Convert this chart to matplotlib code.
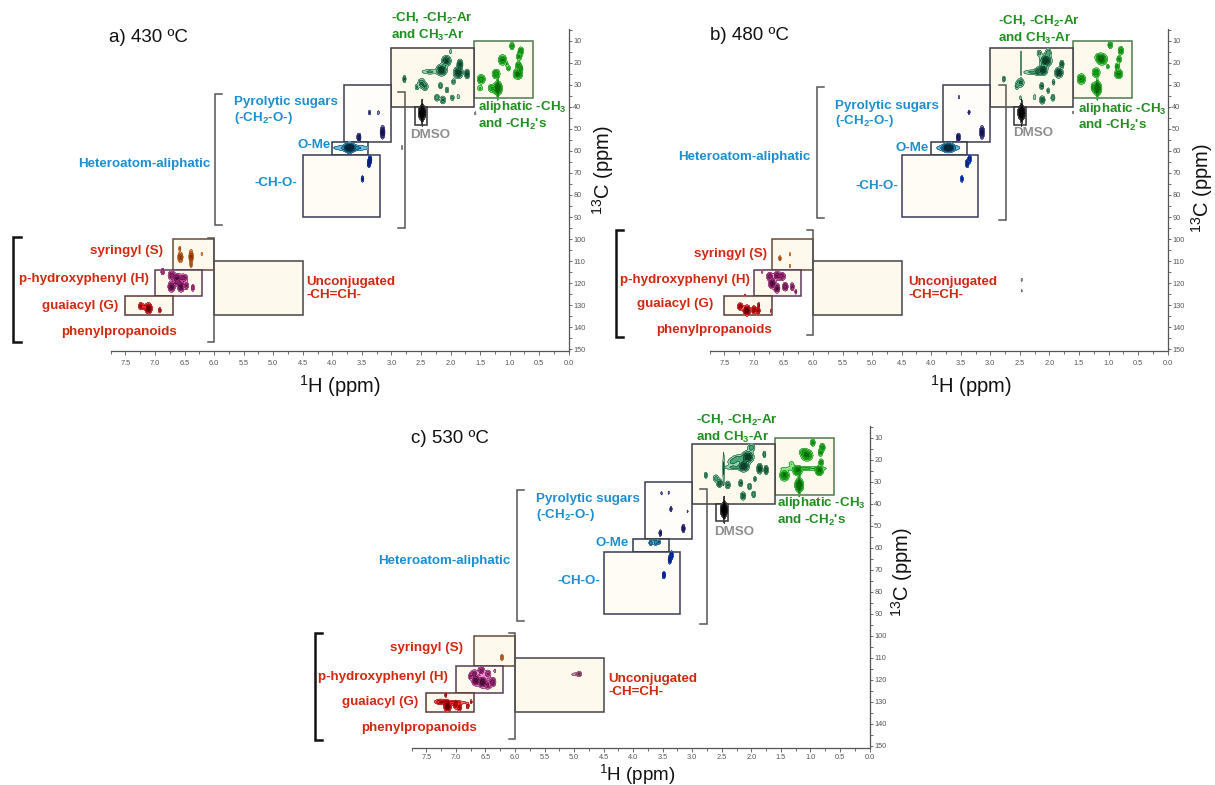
import numpy as np
import matplotlib
matplotlib.use("Agg")
import matplotlib.pyplot as plt
from matplotlib.patches import Rectangle
from matplotlib.ticker import MultipleLocator, FormatStrFormatter

plt.rcParams['font.family'] = ['Liberation Sans', 'DejaVu Sans']
plt.rcParams['mathtext.fontset'] = 'custom'
plt.rcParams['mathtext.rm'] = 'Liberation Sans'
plt.rcParams['mathtext.bf'] = 'Liberation Sans:bold'
plt.rcParams['mathtext.it'] = 'Liberation Sans:italic'
plt.rcParams['mathtext.default'] = 'rm'

# ---- spectral regions (1H range, 13C range) ----
REGIONS = ['aliph', 'char', 'dmso', 'sugar', 'ome', 'cho', 's', 'h', 'g', 'unconj']
REGION_H = [(0.6, 1.6), (1.6, 3.0), (2.4, 2.6), (3.0, 3.8), (3.4, 4.0),
            (3.2, 4.5), (6.0, 6.7), (6.2, 7.0), (6.7, 7.5), (4.5, 6.0)]
REGION_C = [(10, 36), (13, 40), (40, 48), (30, 56), (56, 62),
            (62, 90), (100, 114), (114, 126), (126, 134.5), (110, 134.5)]

PANEL_TITLES = ['a) 430 ºC', 'b) 480 ºC', 'c) 530 ºC']

# ---- cross peaks: (1H ppm, 13C ppm, intensity, width 1H, width 13C) ----
A_ALIPH = [(0.96, 12.3, 0.6, 0.022, 0.9), (0.81, 14.6, 0.7, 0.025, 1.0),
           (1.12, 18.6, 0.9, 0.035, 1.2), (0.84, 17.1, 0.6, 0.025, 0.9),
           (0.85, 21.2, 0.7, 0.025, 1.0), (1.02, 22.4, 0.4, 0.02, 0.8),
           (0.81, 22.6, 0.5, 0.02, 0.8), (1.23, 25.0, 0.8, 0.035, 1.1),
           (0.86, 25.0, 1.0, 0.04, 1.2), (1.48, 27.4, 0.8, 0.035, 1.1),
           (1.50, 31.5, 0.35, 0.03, 0.8), (1.30, 31.5, 0.6, 0.035, 1.0),
           (1.20, 31.5, 1.4, 0.035, 1.5), (1.20, 31.5, 0.4, 0.008, 3.5),
           (1.05, 20.5, 0.3, 0.015, 0.7)]
A_CHAR = [(2.78, 27.3, 0.6, 0.015, 0.9), (2.00, 14.8, 0.3, 0.01, 0.7),
          (2.07, 19.0, 1.0, 0.04, 1.2), (1.84, 20.6, 0.9, 0.025, 1.2),
          (2.15, 23.2, 1.2, 0.045, 1.3), (1.87, 24.4, 1.2, 0.04, 1.3),
          (1.72, 25.0, 0.9, 0.022, 1.1), (2.35, 24.0, 0.35, 0.09, 0.7),
          (2.49, 29.2, 0.6, 0.035, 1.2), (2.43, 30.8, 0.5, 0.03, 1.0),
          (2.57, 31.0, 0.35, 0.02, 0.8), (2.17, 30.3, 0.5, 0.02, 0.8),
          (2.06, 32.3, 0.4, 0.02, 0.8), (1.95, 28.5, 0.4, 0.02, 0.8),
          (1.97, 35.8, 0.4, 0.02, 0.8), (2.23, 35.8, 0.5, 0.025, 0.9),
          (2.13, 36.8, 0.6, 0.025, 1.0), (1.87, 35.3, 0.3, 0.015, 0.7)]
A_DMSO = [(2.48, 42.6, 1.4, 0.03, 1.6), (2.48, 42.6, 0.4, 0.008, 4.0)]
A_SUGAR = [(3.37, 42.6, 0.35, 0.012, 0.7), (3.22, 42.6, 0.25, 0.012, 0.7),
           (3.15, 51.5, 1.0, 0.02, 1.5), (3.55, 53.8, 0.8, 0.018, 1.0)]
A_OME = [(3.71, 58.5, 1.3, 0.045, 1.2), (3.68, 58.6, 0.45, 0.18, 0.8)]
A_CHO = [(3.36, 63.8, 0.8, 0.015, 1.0), (3.38, 65.6, 0.8, 0.015, 1.0),
         (3.49, 72.7, 0.6, 0.013, 0.8)]
A_S = [(6.57, 108.3, 0.9, 0.022, 1.2), (6.39, 108.0, 0.9, 0.018, 1.6),
       (6.39, 111.8, 0.4, 0.012, 0.7), (6.21, 106.8, 0.25, 0.01, 0.6),
       (6.58, 104.4, 0.35, 0.012, 0.7)]
A_H = [(6.87, 114.8, 0.5, 0.018, 0.9), (6.72, 116.5, 0.8, 0.03, 1.1),
       (6.63, 117.8, 0.9, 0.04, 1.1), (6.52, 117.8, 0.7, 0.04, 1.0),
       (6.72, 121.7, 1.0, 0.03, 1.2), (6.56, 121.7, 1.0, 0.03, 1.2),
       (6.47, 121.2, 0.6, 0.02, 1.0), (6.36, 122.2, 0.5, 0.015, 0.9),
       (6.63, 120.0, 0.5, 0.05, 0.7)]
A_G = [(7.24, 130.5, 0.6, 0.022, 0.9), (7.11, 131.5, 1.2, 0.03, 1.2),
       (6.92, 132.4, 0.4, 0.015, 0.8), (7.19, 130.8, 0.4, 0.02, 0.7)]
A_UNCONJ = []
A_MISC = [(2.82, 58.5, 0.3, 0.008, 0.6), (1.58, 42.9, 0.25, 0.008, 0.6)]

B_ALIPH = [(0.97, 11.8, 0.6, 0.022, 0.9), (0.79, 14.4, 0.7, 0.025, 1.0),
           (1.11, 18.3, 1.0, 0.045, 1.3), (1.16, 17.5, 0.5, 0.04, 1.0),
           (0.82, 18.3, 0.6, 0.022, 0.9), (0.85, 21.7, 0.6, 0.022, 0.9),
           (1.01, 21.7, 0.35, 0.015, 0.7), (1.21, 24.4, 0.8, 0.035, 1.1),
           (0.83, 25.0, 0.9, 0.035, 1.1), (1.46, 27.3, 0.9, 0.035, 1.2),
           (1.19, 31.5, 1.4, 0.035, 1.5), (1.19, 31.5, 0.4, 0.008, 3.5),
           (1.26, 31.0, 0.5, 0.02, 1.0)]
B_CHAR = [(2.77, 27.3, 0.5, 0.015, 0.8), (2.06, 18.9, 1.2, 0.05, 1.4),
          (2.02, 15.3, 0.5, 0.03, 1.0), (2.17, 15.6, 0.4, 0.025, 0.9),
          (1.79, 20.6, 0.7, 0.02, 1.0), (1.84, 24.4, 1.1, 0.035, 1.2),
          (2.11, 23.2, 1.1, 0.04, 1.2), (2.20, 23.8, 0.5, 0.03, 1.0),
          (2.48, 20.0, 0.3, 0.008, 4.0), (2.30, 24.2, 0.35, 0.09, 0.7),
          (2.49, 29.0, 0.6, 0.035, 1.1), (2.55, 30.5, 0.4, 0.02, 1.0),
          (2.13, 30.5, 0.6, 0.02, 0.9), (2.02, 32.6, 0.4, 0.015, 0.8),
          (1.93, 28.8, 0.4, 0.015, 0.8), (2.12, 36.8, 0.7, 0.025, 1.0),
          (1.94, 35.8, 0.5, 0.02, 0.9), (2.25, 35.5, 0.3, 0.015, 0.8),
          (2.49, 35.8, 0.3, 0.01, 0.6)]
B_DMSO = [(2.47, 42.6, 1.4, 0.03, 1.6), (2.47, 42.6, 0.4, 0.008, 4.0)]
B_SUGAR = [(3.53, 35.6, 0.25, 0.008, 0.6), (3.36, 42.4, 0.35, 0.012, 0.7),
           (3.14, 51.5, 1.0, 0.02, 1.5), (3.54, 53.8, 0.8, 0.018, 1.0)]
B_OME = [(3.71, 58.5, 1.2, 0.05, 1.1), (3.71, 58.6, 0.45, 0.12, 0.8)]
B_CHO = [(3.35, 63.6, 0.8, 0.015, 1.0), (3.39, 65.6, 0.8, 0.015, 1.0),
         (3.48, 72.7, 0.6, 0.013, 0.8)]
B_S = [(6.56, 108.8, 0.45, 0.013, 0.7), (6.39, 107.0, 0.25, 0.01, 0.6),
       (6.39, 112.3, 0.25, 0.01, 0.6)]
B_H = [(6.86, 114.7, 0.3, 0.01, 0.6), (6.73, 117.0, 0.7, 0.03, 1.0),
       (6.61, 116.7, 0.8, 0.03, 1.0), (6.53, 117.0, 0.7, 0.035, 1.0),
       (6.69, 120.2, 1.1, 0.03, 1.2), (6.61, 122.4, 0.9, 0.025, 1.1),
       (6.47, 121.7, 0.8, 0.025, 1.0), (6.35, 121.7, 0.6, 0.018, 1.0),
       (6.29, 124.0, 0.35, 0.012, 0.7)]
B_G = [(7.23, 130.7, 0.7, 0.025, 0.9), (7.12, 132.5, 1.2, 0.03, 1.2),
       (7.00, 132.2, 0.7, 0.02, 1.0), (6.93, 132.6, 0.6, 0.02, 1.0),
       (6.92, 130.0, 0.4, 0.012, 0.7), (6.71, 132.6, 0.25, 0.01, 0.6),
       (7.15, 125.5, 0.2, 0.01, 0.5)]
B_UNCONJ = []
B_MISC = [(2.47, 118.6, 0.25, 0.008, 0.6), (2.47, 123.5, 0.2, 0.008, 0.6),
          (1.60, 42.5, 0.2, 0.008, 0.6)]

C_ALIPH = [(0.96, 12.3, 0.6, 0.022, 0.9), (0.80, 14.5, 0.7, 0.025, 1.0),
           (1.06, 18.0, 1.0, 0.05, 1.3), (1.12, 16.5, 0.45, 0.04, 0.9),
           (0.83, 16.8, 0.6, 0.022, 0.9), (0.82, 21.3, 0.6, 0.022, 0.9),
           (0.85, 25.1, 0.9, 0.035, 1.1), (1.22, 25.1, 0.9, 0.04, 1.1),
           (1.44, 27.1, 1.0, 0.04, 1.3), (1.19, 31.6, 1.4, 0.035, 1.5),
           (1.19, 31.6, 0.4, 0.008, 3.5), (1.10, 24.0, 0.35, 0.25, 0.6),
           (1.32, 22.0, 0.3, 0.03, 0.8)]
C_CHAR = [(2.77, 27.1, 0.5, 0.015, 0.8), (2.06, 18.8, 1.2, 0.05, 1.4),
          (2.13, 22.9, 1.2, 0.045, 1.3), (1.86, 24.1, 1.0, 0.025, 1.2),
          (1.75, 24.7, 0.8, 0.02, 1.1), (1.78, 17.6, 0.5, 0.015, 0.9),
          (2.00, 14.5, 0.5, 0.035, 1.0), (2.22, 19.5, 0.5, 0.06, 1.0),
          (2.32, 21.0, 0.4, 0.05, 1.0), (2.47, 24.0, 0.35, 0.008, 5.0),
          (2.30, 23.5, 0.35, 0.1, 0.7), (2.54, 30.7, 0.8, 0.025, 1.0),
          (2.40, 31.5, 0.6, 0.025, 1.0), (2.18, 30.7, 0.6, 0.02, 0.9),
          (2.03, 32.2, 0.5, 0.02, 0.9), (1.94, 28.8, 0.4, 0.015, 0.8),
          (2.14, 36.5, 0.7, 0.025, 1.0), (1.96, 35.8, 0.5, 0.02, 0.9),
          (2.60, 28.5, 0.4, 0.03, 1.0)]
C_DMSO = [(2.46, 42.8, 1.4, 0.03, 1.6), (2.46, 42.8, 0.4, 0.008, 4.0)]
C_SUGAR = [(3.52, 35.3, 0.25, 0.008, 0.6), (3.40, 35.0, 0.25, 0.008, 0.6),
           (3.36, 42.5, 0.4, 0.012, 0.8), (3.08, 43.5, 0.2, 0.008, 0.6),
           (3.15, 51.3, 0.7, 0.015, 1.0), (3.54, 53.4, 0.6, 0.013, 0.8)]
C_OME = [(3.70, 57.8, 0.5, 0.02, 0.7), (3.62, 57.6, 0.5, 0.025, 0.8),
         (3.56, 57.5, 0.35, 0.015, 0.6)]
C_CHO = [(3.35, 63.4, 0.8, 0.015, 1.0), (3.38, 65.5, 0.8, 0.015, 1.0),
         (3.48, 72.5, 0.7, 0.015, 0.9)]
C_S = [(6.22, 109.9, 0.5, 0.015, 0.8)]
C_H = [(6.69, 117.4, 0.7, 0.03, 1.0), (6.57, 115.9, 0.7, 0.03, 1.0),
       (6.46, 117.4, 0.6, 0.03, 1.0), (6.66, 120.4, 1.1, 0.035, 1.2),
       (6.55, 121.1, 1.2, 0.035, 1.3), (6.38, 121.1, 0.8, 0.03, 1.1),
       (6.46, 122.5, 0.6, 0.03, 1.0), (6.34, 116.0, 0.3, 0.012, 0.6),
       (6.75, 118.5, 0.5, 0.02, 0.9)]
C_G = [(7.14, 132.2, 1.2, 0.03, 1.2), (7.25, 130.0, 0.5, 0.06, 0.7),
       (7.00, 131.5, 0.7, 0.025, 1.0), (6.94, 132.5, 0.6, 0.02, 1.0),
       (6.80, 132.0, 0.45, 0.015, 0.8), (7.17, 126.9, 0.4, 0.012, 0.7),
       (6.74, 130.0, 0.3, 0.01, 0.6), (7.05, 130.4, 0.35, 0.15, 0.6)]
C_UNCONJ = [(4.91, 117.4, 0.5, 0.02, 0.7), (4.97, 117.6, 0.3, 0.05, 0.5)]
C_MISC = []

PANEL_PEAKS = [
    [A_ALIPH, A_CHAR, A_DMSO, A_SUGAR, A_OME, A_CHO, A_S, A_H, A_G, A_UNCONJ, A_MISC],
    [B_ALIPH, B_CHAR, B_DMSO, B_SUGAR, B_OME, B_CHO, B_S, B_H, B_G, B_UNCONJ, B_MISC],
    [C_ALIPH, C_CHAR, C_DMSO, C_SUGAR, C_OME, C_CHO, C_S, C_H, C_G, C_UNCONJ, C_MISC],
]

# ---- styles ----
GREEN = '#1f8f1f'
BLUE = '#1d8fd0'
RED = '#d2280f'
GRAY = '#8e8e8e'
CREAM = '#fdf9ec'

BOX_FACE = [CREAM, CREAM, 'white', '#fefdf9', '#fdfcf6', '#fefcf4', CREAM, CREAM, CREAM, CREAM]
BOX_EDGE = ['#4f7a4f', '#3c3c44', '#303030', '#3c3c50', '#303848', '#3a3a58',
            '#6a4a38', '#5a3a58', '#5a3a3a', '#44444c']

PEAK_COLORS = [
    ['#86e686', '#36c836', '#12a812', '#0a6a0a'],   # aliphatic
    ['#98d4b0', '#4aa878', '#1f6f4a', '#0e3d2a'],   # CH / CH2-Ar
    ['#808080', '#404040', '#1c1c1c', '#000000'],   # DMSO
    ['#8c8cc8', '#4848a8', '#242478', '#121245'],   # sugars
    ['#6cc0e6', '#2494c4', '#0f6286', '#06263a'],   # OMe
    ['#5a84f4', '#1c4ce0', '#0c2fa8', '#061c70'],   # CH-O
    ['#f4ac70', '#e47a28', '#b85412', '#7c3208'],   # S
    ['#e68ac8', '#c44698', '#8e226c', '#4c0e3a'],   # H
    ['#ff7070', '#ff2424', '#c80606', '#620000'],   # G
    ['#d49ab4', '#b46888', '#8a4464', '#5a2440'],   # unconjugated
    ['#b0b0b0', '#909090', '#707070', '#505050'],   # misc
]
LEVELS = [0.12, 0.3, 0.55, 0.85, 50]

AXES_POS = [[0.0911, 0.5526, 0.3770, 0.4106],
            [0.5840, 0.5526, 0.3770, 0.4106],
            [0.3387, 0.0473, 0.3770, 0.4106]]
XLABEL_POS = [(0.2798, 0.4994), (0.7989, 0.4994), (0.5243, 0.0055)]
XLABEL_SIZE = [14.5, 14.5, 13.5]
XTICK_PAD = [3, 3, 1.5]
YLABEL_POS = [(0.4963, 0.7834), (0.9893, 0.760), (0.7424, 0.2713)]
TITLE_POS = [(7.78, 8.6), (7.74, 7.3), (7.76, 10.6)]

# label anchors per panel: (H, C)
LABEL_POS = [
    dict(char=(3.00, 3.6), aliph=(1.54, 44.0), dmso=(2.35, 52.7), sugar=(5.66, 41.7),
         ome=(4.02, 57.3), hetero=(6.07, 66.0), cho=(4.59, 74.7), s=(6.86, 105.5),
         h=(7.11, 118.3), g=(7.62, 130.3), phen=(6.63, 142.4), unconj=(4.44, 122.5)),
    dict(char=(2.87, 5.1), aliph=(1.51, 44.5), dmso=(2.27, 52.0), sugar=(5.63, 43.4),
         ome=(4.04, 58.5), hetero=(6.04, 62.9), cho=(4.56, 75.9), s=(6.78, 107.0),
         h=(7.07, 118.6), g=(7.68, 129.5), phen=(6.70, 141.4), unconj=(4.39, 122.6)),
    dict(char=(2.93, 5.9), aliph=(1.56, 43.7), dmso=(2.29, 53.1), sugar=(5.65, 42.0),
         ome=(4.07, 57.8), hetero=(6.07, 66.0), cho=(4.55, 75.1), s=(6.88, 105.4),
         h=(7.13, 118.7), g=(7.64, 130.0), phen=(6.64, 142.1), unconj=(4.42, 122.6)),
]
# brackets per panel: (x, c_top, c_bottom)
BRACKETS = [
    dict(phenL=(9.40, 99.0, 147.0), phenR=(6.0, 99.7, 147.0),
         hetL=(5.98, 34.0, 93.6), hetR=(2.77, 33.0, 94.8)),
    dict(phenL=(9.34, 95.9, 144.7), phenR=(6.0, 95.9, 143.6),
         hetL=(5.94, 30.8, 90.6), hetR=(2.73, 30.0, 91.4)),
    dict(phenL=(9.39, 99.0, 147.4), phenR=(6.0, 99.0, 147.1),
         hetL=(5.97, 33.6, 93.2), hetR=(2.75, 33.3, 94.8)),
]


def draw_peaks(ax, peaks, colors):
    if not peaks:
        return
    arr = np.array(peaks)
    h_lo = (arr[:, 0] - 4 * arr[:, 3]).min()
    h_hi = (arr[:, 0] + 4 * arr[:, 3]).max()
    c_lo = (arr[:, 1] - 4 * arr[:, 4]).min()
    c_hi = (arr[:, 1] + 4 * arr[:, 4]).max()
    hh = np.linspace(h_lo, h_hi, 400)
    cc = np.linspace(c_lo, c_hi, 400)
    H, C = np.meshgrid(hh, cc)
    Z = np.zeros_like(H)
    for h0, c0, amp, sh, sc in peaks:
        Z += amp * np.exp(-0.5 * (((H - h0) / sh) ** 2 + ((C - c0) / sc) ** 2))
    ax.contourf(H, C, Z, levels=LEVELS, colors=colors, zorder=3)
    ax.contour(H, C, Z, levels=LEVELS[:-1], colors=[colors[-1]], linewidths=0.35, zorder=4)


def bracket(ax, x, c0, c1, side, color, lw, tick=0.12):
    # side: 'L' -> "[" ticks point to lower ppm (right), 'R' -> "]" ticks point left
    d = -tick if side == 'L' else tick
    ax.plot([x + d, x, x, x + d], [c0, c0, c1, c1], color=color, lw=lw,
            clip_on=False, zorder=2, solid_joinstyle='miter')


fig = plt.figure(figsize=(12.15, 7.85), dpi=100)

bold = dict(fontweight='bold', fontsize=9.6)

for p in range(3):
    ax = fig.add_axes(AXES_POS[p])
    ax.set_xlim(7.75, 0.0)
    ax.set_ylim(151, 4.5)
    for s in ['top', 'left']:
        ax.spines[s].set_visible(False)
    for s in ['bottom', 'right']:
        ax.spines[s].set_color('#555555')
        ax.spines[s].set_linewidth(0.9)
    ax.yaxis.tick_right()
    ax.xaxis.set_major_locator(MultipleLocator(0.5))
    ax.xaxis.set_minor_locator(MultipleLocator(0.25))
    ax.xaxis.set_major_formatter(FormatStrFormatter('%.1f'))
    ax.set_yticks(np.arange(10, 151, 10))
    ax.yaxis.set_minor_locator(MultipleLocator(5))
    ax.tick_params(axis='x', which='both', direction='out', length=3, width=0.6,
                   colors='#555555', labelsize=5.3, pad=XTICK_PAD[p])
    ax.tick_params(axis='y', which='both', direction='out', length=2.5, width=0.6,
                   colors='#555555', labelsize=5.3, pad=0.8)
    ax.tick_params(which='minor', length=2)
    ax.set_facecolor('none')

    # region boxes
    for i, name in enumerate(REGIONS):
        h0, h1 = REGION_H[i]
        c0, c1 = REGION_C[i]
        ax.add_patch(Rectangle((h0, c0), h1 - h0, c1 - c0, facecolor=BOX_FACE[i],
                               edgecolor=BOX_EDGE[i], lw=1.1, zorder=1.5))

    # peaks
    for i, peaks in enumerate(PANEL_PEAKS[p]):
        draw_peaks(ax, peaks, PEAK_COLORS[i])

    # brackets
    br = BRACKETS[p]
    bracket(ax, *br['phenL'], 'L', '#111111', 1.8, tick=0.13)
    bracket(ax, *br['phenR'], 'R', '#555555', 1.1, tick=0.1)
    bracket(ax, *br['hetL'], 'L', '#555555', 1.1, tick=0.12)
    bracket(ax, *br['hetR'], 'R', '#555555', 1.1, tick=0.12)

    lp = LABEL_POS[p]
    ax.text(*lp['char'], '-CH, -CH$_\\mathbf{2}$-Ar\nand CH$_\\mathbf{3}$-Ar', color=GREEN,
            ha='left', va='center', linespacing=1.15, **bold)
    ax.text(*lp['aliph'], 'aliphatic -CH$_\\mathbf{3}$\nand -CH$_\\mathbf{2}$\'s', color=GREEN,
            ha='left', va='center', linespacing=1.15, **bold)
    ax.text(*lp['dmso'], 'DMSO', color=GRAY, ha='center', va='center', **bold)
    ax.text(*lp['sugar'], 'Pyrolytic sugars\n(-CH$_\\mathbf{2}$-O-)', color=BLUE,
            ha='left', va='center', linespacing=1.15, **bold)
    ax.text(*lp['ome'], 'O-Me', color=BLUE, ha='right', va='center', **bold)
    ax.text(*lp['hetero'], 'Heteroatom-aliphatic', color=BLUE, ha='right', va='center', **bold)
    ax.text(*lp['cho'], '-CH-O-', color=BLUE, ha='right', va='center', **bold)
    ax.text(*lp['s'], 'syringyl (S)', color=RED, ha='right', va='center', **bold)
    ax.text(*lp['h'], 'p-hydroxyphenyl (H)', color=RED, ha='right', va='center', **bold)
    ax.text(*lp['g'], 'guaiacyl (G)', color=RED, ha='right', va='center', **bold)
    ax.text(*lp['phen'], 'phenylpropanoids', color=RED, ha='right', va='center', **bold)
    ax.text(*lp['unconj'], 'Unconjugated\n-CH=CH-', color=RED, ha='left', va='center',
            linespacing=1.15, **bold)

    ax.text(*TITLE_POS[p], PANEL_TITLES[p], fontsize=13.5, color='#111111',
            ha='left', va='center')

    fig.text(*XLABEL_POS[p], '$^{1}$H (ppm)', fontsize=XLABEL_SIZE[p], ha='center',
             va='baseline', color='#111111')
    fig.text(*YLABEL_POS[p], '$^{13}$C (ppm)', fontsize=14.5, ha='center', va='center',
             rotation=90, color='#111111')

fig.savefig('out.png', dpi=100)
